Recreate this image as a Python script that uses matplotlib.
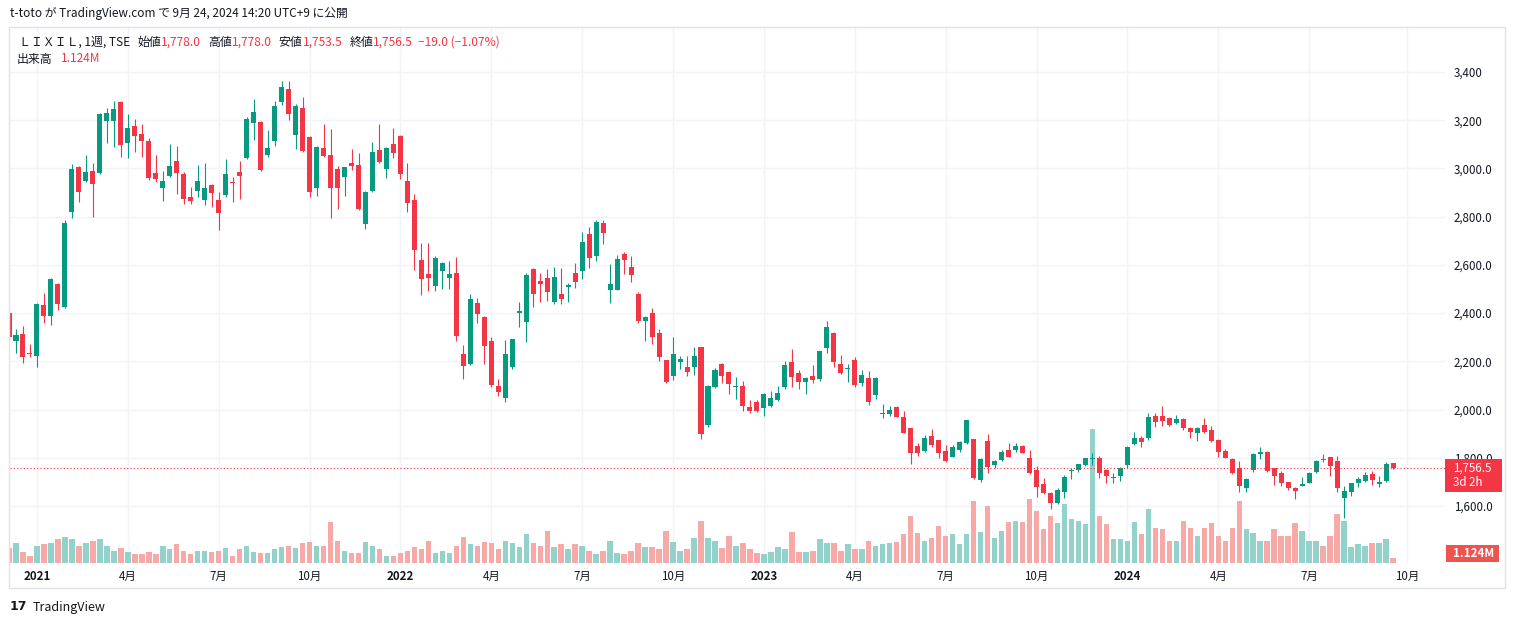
import matplotlib
matplotlib.use("Agg")
import matplotlib.pyplot as plt
from matplotlib.patches import Rectangle
from matplotlib.transforms import blended_transform_factory, Affine2D
import numpy as np
import pandas as pd

plt.rcParams['font.family'] = ['Noto Sans CJK JP', 'DejaVu Sans']

# weekly bars, first bar = week of 2020-12-07
start_week = "2020-12-07"

opens = [2400, 2284, 2313, 2235, 2222, 2434, 2388, 2521, 2425, 2819,
         3006, 2948, 2989, 2981, 3197, 3197, 3276, 3106, 3176, 3143,
         3114, 2981, 2919, 2969, 3031, 2977, 2882, 2906, 2869, 2931,
         2869, 2890, 2944, 2985, 3043, 3189, 3193, 3056, 3114, 3276,
         3330, 3139, 3251, 3130, 2919, 3085, 3056, 2998, 2965, 3023,
         3014, 2770, 2906, 3077, 2998, 3101, 3135, 2948, 2869, 2620,
         2562, 2513, 2575, 2546, 2566, 2231, 2189, 2442, 2385, 2284,
         2098, 2049, 2178, 2402, 2365, 2583, 2533, 2544, 2448, 2478,
         2510, 2568, 2576, 2728, 2637, 2775, 2496, 2496, 2645, 2593,
         2479, 2369, 2399, 2316, 2204, 2141, 2199, 2178, 2178, 2261,
         1934, 2092, 2188, 2157, 2092, 2098, 2012, 2030, 2008, 2015,
         2040, 2092, 2199, 2153, 2116, 2139, 2126, 2257, 2319, 2188,
         2168, 2206, 2112, 2130, 2061, 1980, 1982, 2012, 1971, 1925,
         1850, 1830, 1890, 1874, 1828, 1805, 1832, 1863, 1877, 1708,
         1870, 1770, 1791, 1832, 1832, 1849, 1798, 1750, 1691, 1653,
         1611, 1660, 1746, 1750, 1770, 1794, 1798, 1750, 1717, 1725,
         1770, 1857, 1881, 1881, 1973, 1973, 1964, 1943, 1960, 1925,
         1902, 1936, 1915, 1874, 1828, 1794, 1757, 1676, 1750, 1815,
         1826, 1757, 1736, 1698, 1676, 1685, 1697, 1743, 1795, 1802,
         1787, 1635, 1660, 1697, 1705, 1733, 1691, 1705, 1778.0]
highs = [2410, 2334, 2347, 2272, 2442, 2484, 2546, 2525, 2786, 3018,
         3010, 3056, 3023, 3230, 3251, 3280, 3280, 3226, 3205, 3184,
         3126, 3056, 2989, 3101, 3093, 2985, 2923, 3014, 3023, 2935,
         2902, 3039, 2965, 3031, 3213, 3288, 3197, 3159, 3280, 3363,
         3363, 3267, 3296, 3135, 3093, 3184, 3164, 3010, 3006, 3081,
         3064, 2906, 3110, 3184, 3089, 3168, 3139, 3023, 2894, 2691,
         2691, 2637, 2612, 2616, 2633, 2268, 2479, 2463, 2388, 2302,
         2127, 2289, 2293, 2445, 2568, 2586, 2565, 2582, 2590, 2586,
         2524, 2609, 2738, 2756, 2786, 2786, 2604, 2641, 2655, 2638,
         2489, 2388, 2420, 2334, 2206, 2300, 2224, 2222, 2261, 2261,
         2102, 2171, 2192, 2160, 2134, 2119, 2040, 2040, 2068, 2077,
         2098, 2201, 2250, 2164, 2136, 2185, 2243, 2369, 2323, 2226,
         2188, 2217, 2164, 2160, 2134, 2022, 2015, 2015, 1994, 1925,
         1860, 1895, 1919, 1874, 1853, 1853, 1870, 1957, 1877, 1798,
         1899, 1790, 1832, 1863, 1863, 1853, 1832, 1767, 1715, 1660,
         1674, 1729, 1759, 1776, 1800, 1821, 1808, 1754, 1736, 1761,
         1849, 1906, 1890, 1985, 1985, 2015, 1968, 1978, 1964, 1929,
         1929, 1964, 1932, 1878, 1835, 1798, 1787, 1715, 1821, 1846,
         1830, 1759, 1745, 1701, 1680, 1719, 1743, 1791, 1816, 1805,
         1808, 1684, 1697, 1719, 1743, 1745, 1725, 1784, 1778.0]
lows = [2290, 2235, 2193, 2218, 2177, 2359, 2351, 2413, 2421, 2795,
        2861, 2944, 2799, 2977, 3106, 3089, 3047, 3043, 3068, 3047,
        2952, 2944, 2865, 2965, 2894, 2853, 2853, 2882, 2848, 2840,
        2745, 2882, 2861, 2873, 3039, 3118, 2989, 3047, 3093, 3263,
        3201, 3081, 3068, 2882, 2886, 3047, 2795, 2832, 2886, 2994,
        2828, 2749, 2902, 3023, 2960, 3043, 2956, 2819, 2579, 2475,
        2492, 2492, 2500, 2500, 2284, 2127, 2185, 2359, 2189, 2095,
        2056, 2033, 2167, 2344, 2281, 2424, 2448, 2452, 2438, 2437,
        2448, 2503, 2542, 2588, 2616, 2687, 2443, 2496, 2562, 2530,
        2360, 2285, 2272, 2203, 2109, 2123, 2168, 2141, 2143, 1878,
        1929, 2088, 2112, 2065, 2044, 1995, 1985, 1988, 1973, 2010,
        2036, 2084, 2095, 2084, 2065, 2109, 2120, 2236, 2178, 2146,
        2116, 2092, 2098, 2019, 2044, 1966, 1975, 1971, 1904, 1773,
        1808, 1826, 1846, 1800, 1784, 1802, 1826, 1857, 1711, 1701,
        1736, 1759, 1788, 1802, 1826, 1818, 1733, 1639, 1650, 1587,
        1608, 1632, 1711, 1743, 1766, 1770, 1715, 1697, 1697, 1705,
        1759, 1855, 1846, 1874, 1929, 1932, 1932, 1939, 1915, 1881,
        1871, 1902, 1864, 1805, 1798, 1733, 1660, 1657, 1743, 1795,
        1743, 1687, 1684, 1667, 1629, 1683, 1694, 1738, 1784, 1725,
        1660, 1549, 1642, 1680, 1701, 1687, 1678, 1701, 1753.5]
closes = [2300, 2309, 2218, 2230, 2438, 2388, 2542, 2438, 2774, 2998,
          2902, 2985, 2936, 3226, 3230, 3247, 3097, 3168, 3135, 3114,
          2960, 2956, 2948, 3010, 2981, 2873, 2865, 2948, 2919, 2898,
          2815, 2977, 2940, 2969, 3205, 3234, 2994, 3085, 3259, 3338,
          3226, 3259, 3072, 2902, 3089, 3052, 2919, 2919, 3006, 3010,
          2832, 2902, 3068, 3027, 3085, 3064, 2977, 2857, 2662, 2542,
          2546, 2629, 2608, 2562, 2305, 2181, 2459, 2396, 2265, 2102,
          2072, 2231, 2293, 2409, 2558, 2478, 2520, 2486, 2549, 2459,
          2517, 2530, 2696, 2630, 2779, 2734, 2520, 2625, 2620, 2558,
          2367, 2385, 2302, 2219, 2116, 2231, 2209, 2157, 2224, 1900,
          2098, 2164, 2141, 2106, 2098, 2016, 1994, 1994, 2065, 2047,
          2068, 2184, 2136, 2116, 2132, 2123, 2243, 2344, 2196, 2151,
          2174, 2102, 2143, 2033, 2130, 1984, 1998, 1971, 1904, 1819,
          1821, 1883, 1853, 1821, 1788, 1846, 1864, 1957, 1715, 1794,
          1763, 1788, 1826, 1805, 1849, 1821, 1738, 1678, 1655, 1614,
          1667, 1722, 1750, 1774, 1798, 1800, 1738, 1726, 1721, 1757,
          1844, 1881, 1864, 1968, 1950, 1954, 1936, 1960, 1922, 1906,
          1925, 1906, 1871, 1826, 1800, 1738, 1681, 1711, 1816, 1826,
          1747, 1725, 1694, 1673, 1664, 1691, 1738, 1787, 1791, 1766,
          1673, 1662, 1694, 1711, 1729, 1708, 1701, 1775.5, 1756.5]
# weekly volume, millions of shares
volumes = [3.6, 4.7, 2.6, 1.6, 4.0, 4.5, 4.7, 5.7, 6.2, 5.7,
           4.0, 4.7, 5.2, 5.7, 4.0, 3.0, 3.5, 2.6, 2.1, 2.1,
           2.6, 2.1, 4.2, 3.3, 4.5, 2.8, 2.1, 3.0, 3.0, 2.6,
           3.0, 3.5, 1.6, 3.3, 4.0, 2.6, 2.3, 2.3, 3.3, 3.8,
           4.2, 3.5, 4.7, 5.0, 4.0, 4.2, 9.8, 5.2, 3.0, 2.3,
           2.3, 5.0, 4.2, 3.3, 1.8, 1.8, 2.3, 2.8, 3.8, 3.3,
           5.4, 2.3, 3.0, 2.3, 4.2, 6.2, 4.5, 4.0, 5.0, 4.7,
           3.3, 5.2, 4.7, 3.8, 6.9, 4.7, 4.2, 7.8, 3.8, 4.5,
           3.3, 4.5, 4.2, 3.0, 2.1, 2.8, 5.2, 2.3, 2.1, 3.0,
           4.7, 3.8, 3.8, 3.3, 7.6, 5.0, 2.8, 3.3, 5.9, 10.0,
           5.9, 5.2, 3.5, 6.6, 4.0, 4.7, 3.3, 2.3, 2.1, 2.6,
           3.8, 3.3, 7.4, 2.6, 2.6, 3.0, 5.7, 4.7, 4.7, 3.0,
           4.5, 3.3, 3.3, 5.4, 4.0, 4.5, 4.7, 5.0, 6.9, 11.2,
           7.1, 5.4, 5.9, 9.0, 6.6, 6.9, 4.5, 6.9, 15.0, 7.4,
           13.8, 5.9, 7.8, 9.8, 10.0, 9.8, 15.3, 12.4, 8.1, 11.2,
           9.5, 14.1, 10.5, 10.2, 9.3, 32.2, 11.4, 9.3, 5.7, 5.7,
           5.4, 9.8, 6.9, 12.9, 8.3, 8.1, 5.4, 5.2, 10.0, 8.3,
           6.6, 8.3, 9.5, 6.4, 5.4, 8.3, 14.8, 8.1, 7.1, 5.2,
           5.2, 8.1, 6.4, 6.4, 9.5, 7.6, 5.2, 5.4, 4.2, 6.4,
           11.7, 10.0, 3.8, 4.5, 4.2, 4.7, 4.7, 5.7, 1.124]

price_ticks = [1600, 1800, 2000, 2200, 2400, 2600, 2800, 3000, 3200, 3400]
price_tick_labels = ["1,600.0", "1,800.0", "2,000.0", "2,200.0", "2,400.0",
                     "2,600.0", "2,800.0", "3,000.0", "3,200", "3,400"]
label_months = [1, 4, 7, 10]

GREEN = '#089981'
RED = '#f23645'
VOL_GREEN = '#92d2ca'
VOL_RED = '#f7a9a8'
GRID = '#f0f3fa'
TEXT = '#131722'

W, H = 1515, 625


def fx(px):
    return px / W


def fy(py):
    return 1 - py / H


fig = plt.figure(figsize=(W / 100, H / 100), dpi=100)
fig.patch.set_facecolor('white')

ax = fig.add_axes([fx(10), fy(563), fx(1445) - fx(10), fy(28) - fy(563)])

n = len(closes)
x = np.arange(n)
o = np.array(opens, dtype=float)
h = np.array(highs, dtype=float)
l = np.array(lows, dtype=float)
c = np.array(closes, dtype=float)
up = c >= o
cols = np.where(up, GREEN, RED)
vcols = np.where(up, VOL_GREEN, VOL_RED)

# volume scaled into the lower part of the pane (full pane height = 128.4M)
vol_span = 128.4
vol_trans = blended_transform_factory(ax.transData,
                                      Affine2D().scale(1, 1 / vol_span) + ax.transAxes)
ax.bar(x, volumes, width=0.78, color=vcols, linewidth=0, transform=vol_trans, zorder=1)

# candles
ax.vlines(x, l, h, colors=cols, linewidth=0.8, zorder=2)
ax.bar(x, np.maximum(np.abs(c - o), 4), bottom=np.minimum(o, c), width=0.72,
       color=cols, linewidth=0, zorder=3)

ax.axhline(c[-1], color=RED, linestyle=(0, (1, 2)), linewidth=0.8, zorder=4)

# time axis ticks at first weekly bar of each quarter
weeks = pd.date_range(start_week, periods=n + 8, freq='W-MON')
tick_pos, tick_lab, tick_year = [], [], []
for i in range(1, len(weeks)):
    d = weeks[i]
    if d.month != weeks[i - 1].month and d.month in label_months:
        tick_pos.append(i)
        if d.month == 1:
            tick_lab.append(str(d.year))
            tick_year.append(True)
        else:
            tick_lab.append(f"{d.month}月")
            tick_year.append(False)

ax.set_xlim((10 - 9) / 6.99, (1445 - 9) / 6.99)
ax.set_ylim(1363.6, 3582.5)

ax.set_xticks(tick_pos)
ax.set_xticklabels(tick_lab)
for t, is_year in zip(ax.get_xticklabels(), tick_year):
    if is_year:
        t.set_fontweight('bold')
ax.set_yticks(price_ticks)
ax.set_yticklabels(price_tick_labels)
ax.yaxis.tick_right()
ax.tick_params(axis='both', length=0, labelsize=8.3, labelcolor=TEXT)
ax.tick_params(axis='y', pad=6.5)
ax.tick_params(axis='x', pad=5)
ax.grid(True, color=GRID, linewidth=1)
ax.set_axisbelow(True)
for s in ax.spines.values():
    s.set_visible(False)

# outer frame
fig.add_artist(Rectangle((fx(8.5), fy(588)), fx(1505) - fx(8.5), fy(27) - fy(588),
                         transform=fig.transFigure, fill=False,
                         edgecolor='#e0e3eb', linewidth=1))

# last price / volume labels on the right scale
fig.add_artist(Rectangle((fx(1445), fy(492)), fx(57), fy(0) - fy(33),
                         transform=fig.transFigure, facecolor=RED, edgecolor='none'))
fig.text(fx(1453), fy(468), f"{c[-1]:,.1f}", color='white', fontsize=8.3,
         va='center', ha='left')
fig.text(fx(1453), fy(482), "3d 2h", color='white', fontsize=8.3,
         va='center', ha='left')
fig.add_artist(Rectangle((fx(1446), fy(562)), fx(53), fy(0) - fy(17),
                         transform=fig.transFigure, facecolor='#ef5350', edgecolor='none'))
fig.text(fx(1453), fy(553.5), f"{volumes[-1]:.3f}M", color='white', fontsize=8.3,
         fontweight='bold', va='center', ha='left')

# header
fig.text(fx(10), fy(14), "t-toto が TradingView.com で 9月 24, 2024 14:20 UTC+9 に公開",
         color=TEXT, fontsize=8.5, va='center', ha='left')

renderer = fig.canvas.get_renderer()


def text_run(x_px, y_px, parts, size=8.6):
    xp = x_px
    for s, color, gap in parts:
        t = fig.text(fx(xp), fy(y_px), s, color=color, fontsize=size,
                     va='center', ha='left')
        xp += t.get_window_extent(renderer).width + gap


chg = c[-1] - c[-2]
pct = chg / c[-2] * 100
text_run(19, 42.5, [
    ("ＬＩＸＩＬ, 1週, TSE", TEXT, 7),
    ("始値", TEXT, 0), (f"{o[-1]:,.1f}", RED, 7),
    ("高値", TEXT, 0), (f"{h[-1]:,.1f}", RED, 7),
    ("安値", TEXT, 0), (f"{l[-1]:,.1f}", RED, 7),
    ("終値", TEXT, 0), (f"{c[-1]:,.1f}", RED, 5),
    (f"{chg:.1f} ({pct:.2f}%)".replace("-", "−"), RED, 0),
])
text_run(17, 59, [("出来高", TEXT, 8), (f"{volumes[-1]:.3f}M", RED, 0)])

# footer
fig.text(fx(10), fy(607), "17", color=TEXT, fontsize=9, fontweight='heavy',
         family='DejaVu Sans', va='center', ha='left')
fig.text(fx(33), fy(607), "TradingView", color=TEXT, fontsize=9, va='center', ha='left')

fig.savefig("out.png", dpi=100, facecolor='white')
